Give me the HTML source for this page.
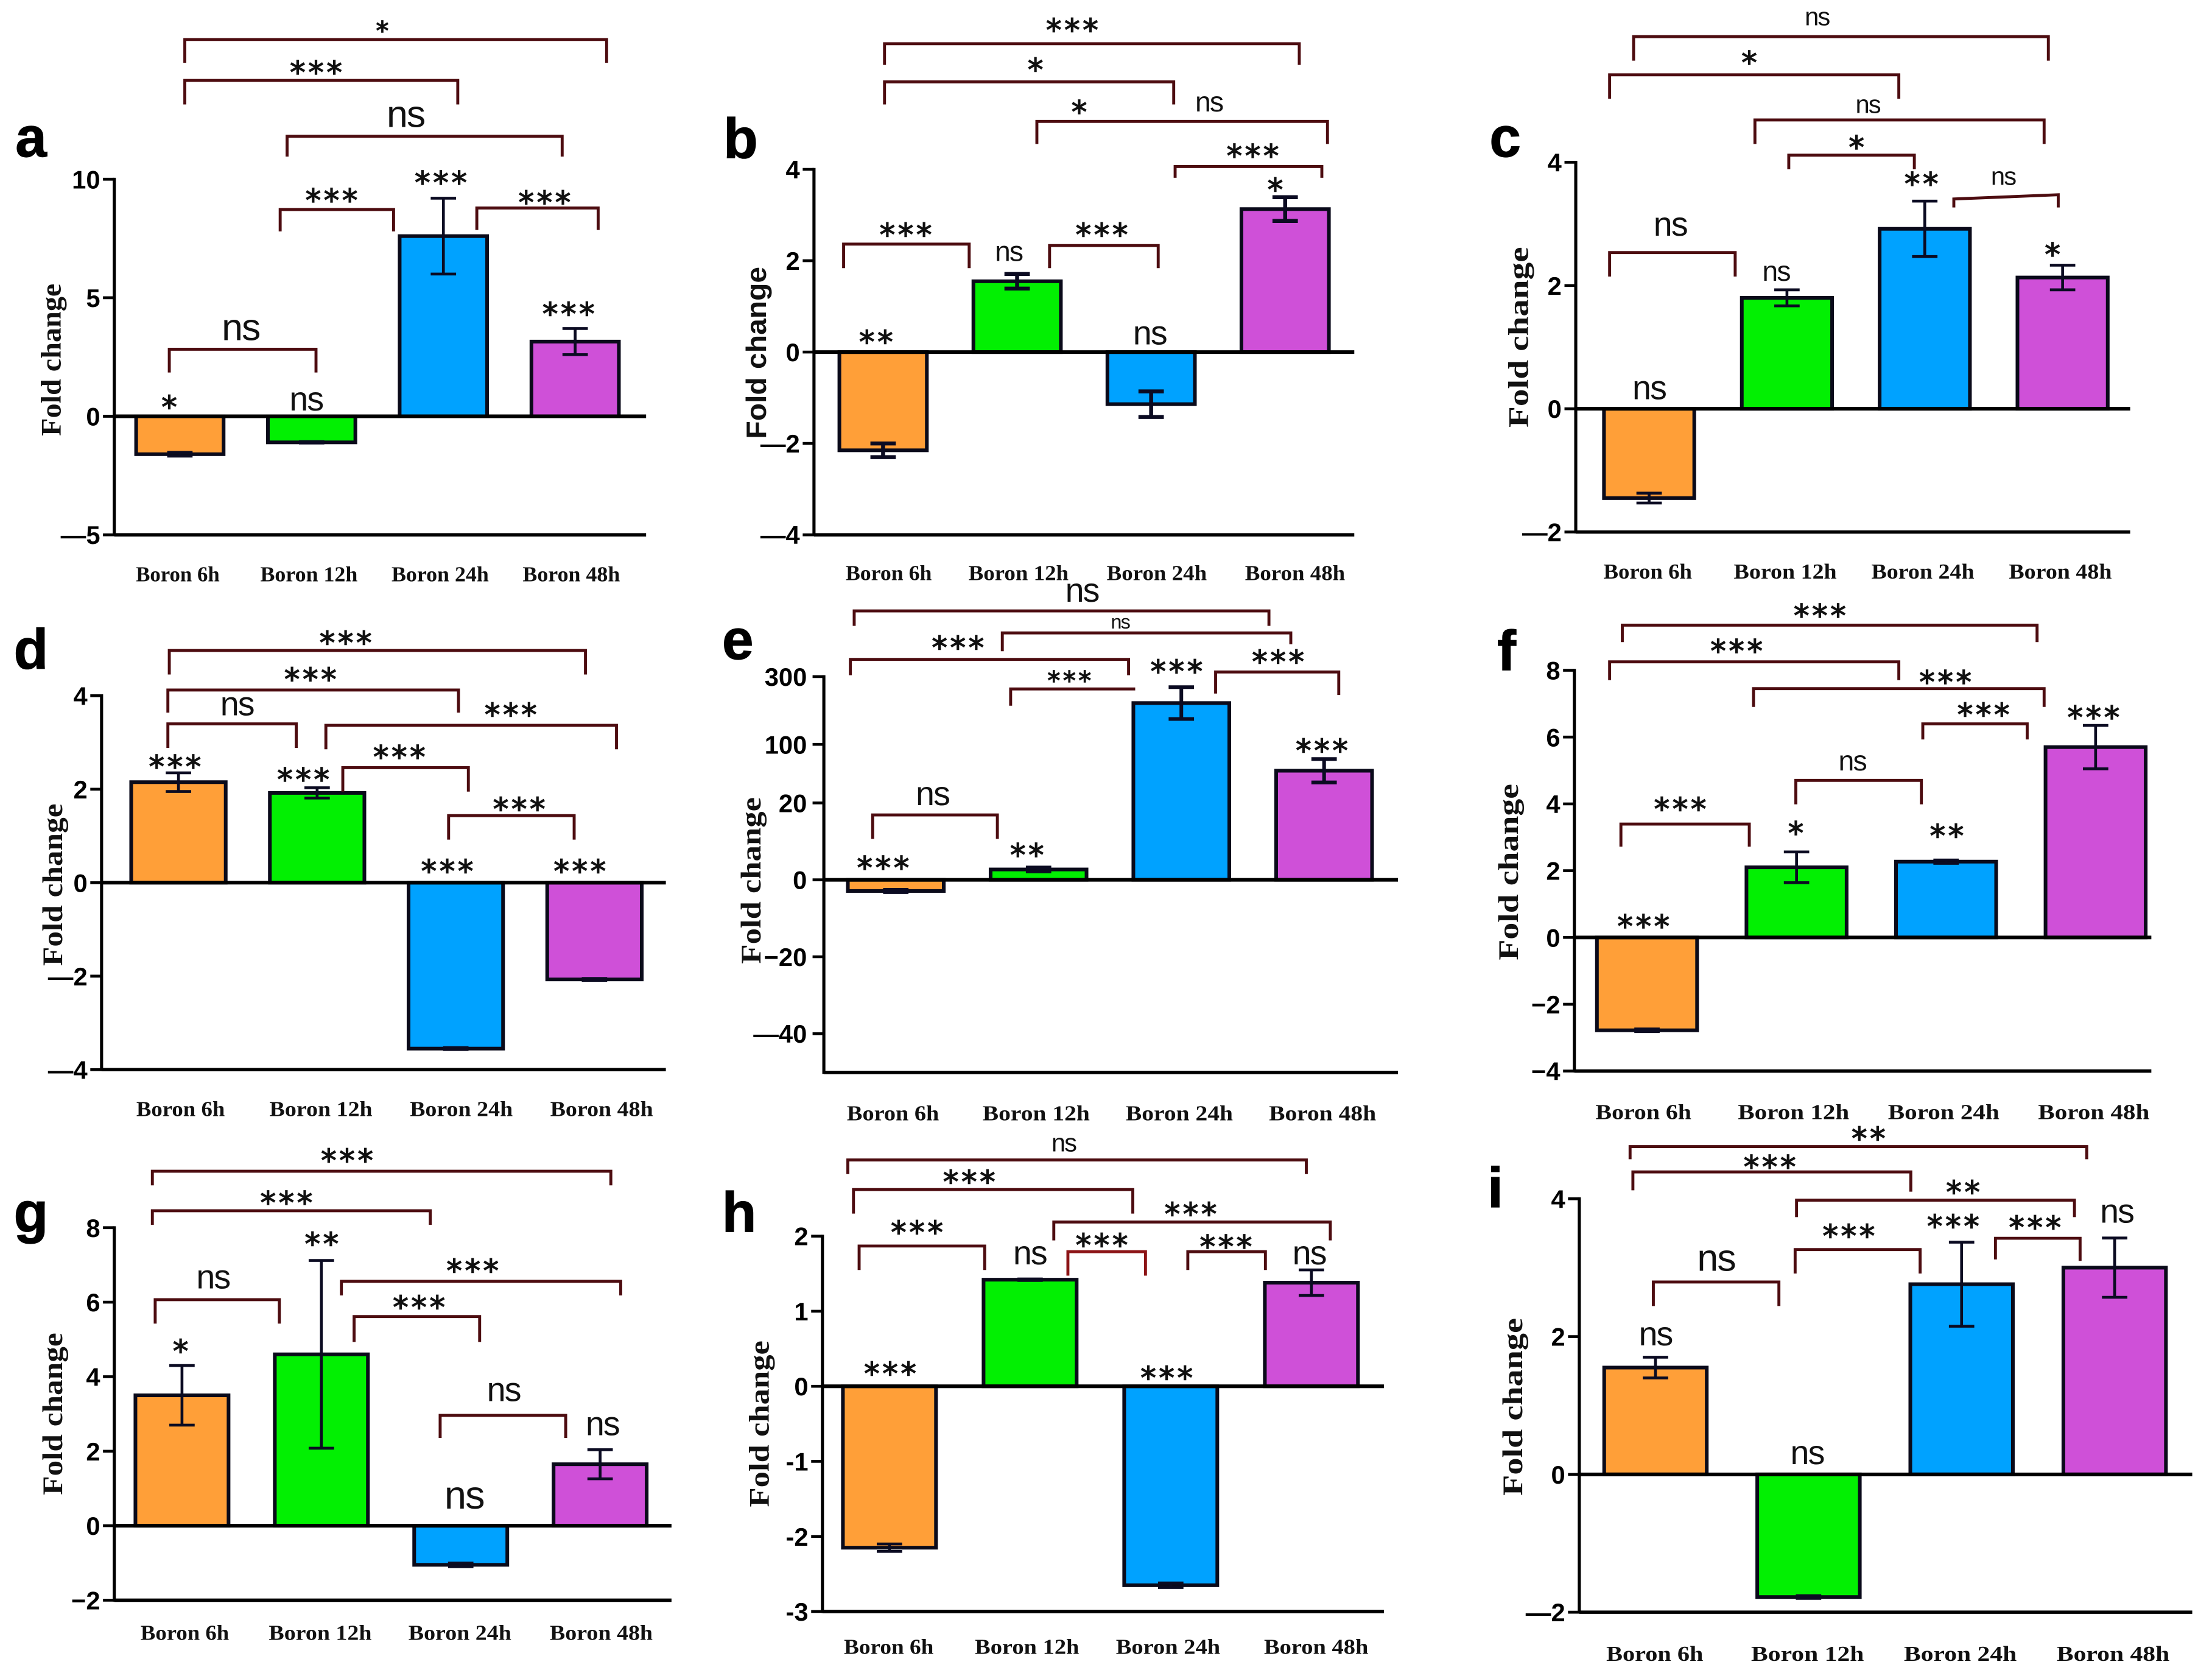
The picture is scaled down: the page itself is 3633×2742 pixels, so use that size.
<!DOCTYPE html>
<html lang="en">
<head>
<meta charset="utf-8">
<title>Fold change panels</title>
<style>
html,body{margin:0;padding:0;background:#fff}
svg{display:block}
.br{fill:none;stroke:#4d0c10;stroke-width:2.1;stroke-linecap:butt}
.st{font-family:"DejaVu Sans",sans-serif;font-size:22px;letter-spacing:2px;text-anchor:middle;fill:#111;stroke:#111;stroke-width:.6}
.ns{font-family:"Liberation Sans",sans-serif;font-size:24px;letter-spacing:-.8px;text-anchor:middle;fill:#111}
.let{font-family:"Liberation Sans",sans-serif;font-weight:bold;font-size:40px;text-anchor:middle;fill:#000;stroke:#000;stroke-width:.5}
.cat{font-family:"Liberation Serif",serif;font-weight:bold;font-size:15px;text-anchor:middle;fill:#111}
.tick{font-family:"Liberation Sans",sans-serif;font-weight:bold;font-size:18px;text-anchor:end;fill:#000}
.ttl{font-family:"Liberation Serif",serif;font-weight:bold;font-size:20px;text-anchor:middle;fill:#111}
</style>
</head>
<body>
<svg id="figure" xmlns="http://www.w3.org/2000/svg" width="3633" height="2742" viewBox="0 0 1568 1183.45">
<rect width="1568" height="1184" fill="#fff"/>
<g id="plots"></g>

<g>
<text class="let" x="22" y="111">a</text>
<path class="br" d="M131 44.5V28H430V44.5"/>
<text class="st" x="272" y="28" style="font-size:18px">*</text>
<path class="br" d="M131 74V57H324.5V74"/>
<text class="st" x="225" y="59">***</text>
<path class="br" d="M203.5 111V96.6H398.5V111"/>
<text class="ns" x="287.5" y="90" style="font-size:27px">ns</text>
<path class="br" d="M198.6 164V148.5H279V164"/>
<text class="st" x="236" y="149.5">***</text>
<path class="br" d="M338 163V147.4H424V163"/>
<text class="st" x="387" y="151">***</text>
<path class="br" d="M120 264V247.5H224V264"/>
<text class="ns" x="170.6" y="241" style="font-size:27px">ns</text>
<text class="st" x="121" y="296">*</text>
<text class="ns" x="217" y="291">ns</text>
<text class="st" x="313.5" y="137">***</text>
<text class="st" x="404" y="230">***</text>
</g>

<g>
<text class="let" x="525" y="112">b</text>
<path class="br" d="M627 46V31H921V46"/>
<text class="st" x="761" y="29">***</text>
<path class="br" d="M627 74V58H832V74"/>
<text class="st" x="735" y="57">*</text>
<path class="br" d="M735 102V86H941V102"/>
<text class="st" x="766" y="87">*</text>
<text class="ns" x="857" y="79" style="font-size:20px">ns</text>
<path class="br" d="M833 126V118H937V126"/>
<text class="st" x="889" y="118">***</text>
<path class="br" d="M598 190V173H687V190"/>
<text class="st" x="643" y="174">***</text>
<path class="br" d="M744 190V174H821V190"/>
<text class="st" x="782" y="174">***</text>
<text class="st" x="622" y="250">**</text>
<text class="ns" x="715" y="185" style="font-size:20px">ns</text>
<text class="ns" x="815" y="244">ns</text>
<text class="st" x="905" y="142">*</text>
</g>

<g>
<text class="let" x="1067" y="111">c</text>
<path class="br" d="M1158 43V26H1452V43"/>
<text class="ns" x="1288" y="18" style="font-size:18px">ns</text>
<path class="br" d="M1141 70V53H1346V70"/>
<text class="st" x="1241" y="52">*</text>
<path class="br" d="M1244 102V85H1449V102"/>
<text class="ns" x="1324" y="80" style="font-size:18px">ns</text>
<path class="br" d="M1268 120V110H1357V120"/>
<text class="st" x="1317" y="112">*</text>
<path class="br" d="M1385 147V141L1459 138V147"/>
<text class="ns" x="1420" y="131" style="font-size:18px">ns</text>
<path class="br" d="M1141 196V179H1230V196"/>
<text class="ns" x="1184" y="167">ns</text>
<text class="ns" x="1169" y="283">ns</text>
<text class="ns" x="1259" y="199" style="font-size:20px">ns</text>
<text class="st" x="1363" y="138">**</text>
<text class="st" x="1456" y="188">*</text>
</g>

<g>
<text class="let" x="22" y="474">d</text>
<path class="br" d="M120 478V461H415V478"/>
<text class="st" x="246" y="463">***</text>
<path class="br" d="M119 505V489H325V505"/>
<text class="st" x="221" y="489">***</text>
<path class="br" d="M119 530V513H210V530"/>
<text class="ns" x="168" y="507">ns</text>
<path class="br" d="M231 531V514H437V531"/>
<text class="st" x="363" y="514">***</text>
<path class="br" d="M243 561V544H332V561"/>
<text class="st" x="284" y="544">***</text>
<path class="br" d="M318 595V578H407V595"/>
<text class="st" x="369" y="581">***</text>
<text class="st" x="125" y="551">***</text>
<text class="st" x="216" y="560">***</text>
<text class="st" x="318" y="625">***</text>
<text class="st" x="412" y="625">***</text>
</g>

<g transform="translate(2 1.5)">
<text class="let" x="521" y="465.5">e</text>
<path class="br" d="M603.5 442V431.4H897.5V442"/>
<text class="ns" x="765" y="425">ns</text>
<path class="br" d="M708.5 460V447H913V455"/>
<text class="ns" x="792" y="444" style="font-size:14px">ns</text>
<path class="br" d="M600.8 477V465.8H798V477"/>
<text class="st" x="678" y="465">***</text>
<path class="br" d="M714.4 498.6V486.7H802.7"/>
<text class="st" x="757" y="487" style="font-size:18px">***</text>
<path class="br" d="M859.7 490V474.7H947V491"/>
<text class="st" x="905" y="475">***</text>
<path class="br" d="M616.6 593V576H705V593"/>
<text class="ns" x="659" y="569">ns</text>
<text class="st" x="625" y="621">***</text>
<text class="st" x="727" y="612">**</text>
<text class="st" x="833" y="482">***</text>
<text class="st" x="936" y="538">***</text>
</g>

<g>
<text class="let" x="1068" y="475">f</text>
<path class="br" d="M1150 455V443H1444V455"/>
<text class="st" x="1291" y="444">***</text>
<path class="br" d="M1141 482V469H1346V482"/>
<text class="st" x="1232" y="469">***</text>
<path class="br" d="M1243 501V488H1449V501"/>
<text class="st" x="1380" y="491">***</text>
<path class="br" d="M1363 524V513H1437V524"/>
<text class="st" x="1407" y="514">***</text>
<path class="br" d="M1273 570V553H1362V570"/>
<text class="ns" x="1313" y="546" style="font-size:20px">ns</text>
<path class="br" d="M1149 600V584H1240V600"/>
<text class="st" x="1192" y="581">***</text>
<text class="st" x="1166" y="664">***</text>
<text class="st" x="1274" y="598">*</text>
<text class="st" x="1381" y="600">**</text>
<text class="st" x="1485" y="516">***</text>
</g>

<g>
<text class="let" x="22" y="873">g</text>
<path class="br" d="M108 840V830H433V840"/>
<text class="st" x="247" y="830">***</text>
<path class="br" d="M108 868V858H305V868"/>
<text class="st" x="204" y="860">***</text>
<path class="br" d="M242 918V908H440V918"/>
<text class="st" x="336" y="908">***</text>
<path class="br" d="M251 951V933H340V951"/>
<text class="st" x="298" y="934">***</text>
<path class="br" d="M110 938V921H198V938"/>
<text class="ns" x="151" y="913">ns</text>
<path class="br" d="M312 1019V1003H401V1019"/>
<text class="ns" x="357" y="993">ns</text>
<text class="st" x="129" y="965">*</text>
<text class="st" x="229" y="889">**</text>
<text class="ns" x="329" y="1069" style="font-size:28px">ns</text>
<text class="ns" x="427" y="1017">ns</text>
</g>

<g>
<text class="let" x="524" y="873">h</text>
<path class="br" d="M601 832V822H926V832"/>
<text class="ns" x="754" y="816" style="font-size:18px">ns</text>
<path class="br" d="M605 860V843H803V860"/>
<text class="st" x="688" y="845">***</text>
<path class="br" d="M747 879V866H943V879"/>
<text class="st" x="845" y="868">***</text>
<path class="br" d="M609 900V883H698V900"/>
<text class="st" x="651" y="881">***</text>
<path class="br" d="M757 904V887H812V904" style="stroke:#8c1416"/>
<text class="st" x="782" y="890">***</text>
<path class="br" d="M842 900V887H897V900"/>
<text class="st" x="870" y="891">***</text>
<text class="st" x="632" y="981">***</text>
<text class="ns" x="730" y="896">ns</text>
<text class="st" x="828" y="984">***</text>
<text class="ns" x="928" y="896">ns</text>
</g>

<g transform="translate(3.5 0.5)">
<text class="let" x="1056.5" y="855">i</text>
<path class="br" d="M1152 821V812H1475.7V821"/>
<text class="st" x="1322" y="814">**</text>
<path class="br" d="M1154 843V830H1351V844"/>
<text class="st" x="1252" y="834">***</text>
<path class="br" d="M1270 862V850H1467V862"/>
<text class="st" x="1389" y="852">**</text>
<path class="br" d="M1269 902V885H1357.6V902"/>
<text class="st" x="1308" y="883">***</text>
<path class="br" d="M1411 892V877H1471V893"/>
<text class="st" x="1440" y="877">***</text>
<path class="br" d="M1168.5 925V908H1257.5V925"/>
<text class="ns" x="1213" y="900" style="font-size:27px">ns</text>
<text class="ns" x="1170" y="953">ns</text>
<text class="st" x="1382" y="876">***</text>
<text class="ns" x="1277.5" y="1037">ns</text>
<text class="ns" x="1497" y="866">ns</text>
</g>
</svg>

<script>
const categories = ['Boron 6h', 'Boron 12h', 'Boron 24h', 'Boron 48h'];
const barColors = ['#ff9f38', '#02f002', '#00a2ff', '#cf50d8'];

const aValues = [-1.6, -1.1, 7.6, 3.15];
const aErrors = [0.08, 0.03, 1.6, 0.55];
const aTicks = [10, 5, 0, -5];
const aTickLabels = ['10', '5', '0', '—5'];

const bValues = [-2.15, 1.55, -1.14, 3.13];
const bErrors = [0.15, 0.16, 0.28, 0.26];
const bTicks = [4, 2, 0, -2, -4];
const bTickLabels = ['4', '2', '0', '—2', '—4'];

const cValues = [-1.45, 1.8, 2.92, 2.13];
const cErrors = [0.08, 0.13, 0.45, 0.2];
const cTicks = [4, 2, 0, -2];
const cTickLabels = ['4', '2', '0', '—2'];

const dValues = [2.15, 1.92, -3.55, -2.07];
const dErrors = [0.2, 0.11, 0.02, 0.02];
const dTicks = [4, 2, 0, -2, -4];
const dTickLabels = ['4', '2', '0', '—2', '—4'];

const eValues = [-2.9, 2.7, 222, 64];
const eErrors = [0.3, 0.5, 47, 16];
const eTicks = [300, 100, 20, 0, -20, -40];
const eTickLabels = ['300', '100', '20', '0', '−20', '—40'];

const fValues = [-2.78, 2.1, 2.27, 5.7];
const fErrors = [0.04, 0.46, 0.05, 0.65];
const fTicks = [8, 6, 4, 2, 0, -2, -4];
const fTickLabels = ['8', '6', '4', '2', '0', '−2', '−4'];

const gValues = [3.5, 4.6, -1.05, 1.65];
const gErrors = [0.8, 2.52, 0.05, 0.39];
const gTicks = [8, 6, 4, 2, 0, -2];
const gTickLabels = ['8', '6', '4', '2', '0', '−2'];

const hValues = [-2.15, 1.42, -2.65, 1.38];
const hErrors = [0.05, 0.01, 0.03, 0.17];
const hTicks = [2, 1, 0, -1, -2, -3];
const hTickLabels = ['2', '1', '0', '-1', '-2', '-3'];

const iValues = [1.55, -1.78, 2.76, 3.0];
const iErrors = [0.15, 0.02, 0.61, 0.43];
const iTicks = [4, 2, 0, -2];
const iTickLabels = ['4', '2', '0', '—2'];

const NS = 'http://www.w3.org/2000/svg';
const root = document.getElementById('plots');

function linearScale(max, min, top, bottom) {
  return function (v) { return top + (max - v) / (max - min) * (bottom - top); };
}
function brokenScale(knotValues, knotPixels) {
  return function (v) {
    let k = 0;
    while (k < knotValues.length - 2 && v > knotValues[k + 1]) k++;
    const t = (v - knotValues[k]) / (knotValues[k + 1] - knotValues[k]);
    return knotPixels[k] + t * (knotPixels[k + 1] - knotPixels[k]);
  };
}
function svgEl(tag, parent) {
  const el = document.createElementNS(NS, tag);
  parent.appendChild(el);
  return el;
}
function setAll(el, props) {
  for (const k in props) el.setAttribute(k, props[k]);
}

function drawPanel(p) {
  const g = svgEl('g', root);
  
  
  const y = p.scale;
  const zero = y(0);
  const barX = function (i) { return p.barFirst + i * p.barStep; };
  const labelX = function (i) { return p.catFirst + i * p.catStep + (p.catNudge ? p.catNudge[i] : 0); };

  p.values.forEach(function (v, i) {
    const bar = svgEl('rect', g);
    
    
    setAll(bar, { x: barX(i) - p.barW / 2, y: Math.min(y(v), zero), width: p.barW, height: Math.abs(y(v) - zero),
      fill: barColors[i], stroke: '#0a0a1a', 'stroke-width': 2.6 });
  });

  p.values.forEach(function (v, i) {
    const err = svgEl('path', g);
    
    
    const cx = barX(i);
    const hi = y(v + p.errors[i]);
    const lo = y(v - p.errors[i]);
    setAll(err, { d: 'M' + (cx - 9) + ' ' + hi + 'H' + (cx + 9) + 'M' + cx + ' ' + hi + 'V' + lo + 'M' + (cx - 9) + ' ' + lo + 'H' + (cx + 9),
      fill: 'none', stroke: '#0b0b22', 'stroke-width': p.errW || 2 });
  });

  const yAxis = svgEl('line', g);
  
  
  setAll(yAxis, { x1: p.axisX, x2: p.axisX, y1: y(p.ticks[0]) - 1, y2: p.bottom + 1, stroke: '#000', 'stroke-width': 2.2 });

  const baseline = svgEl('line', g);
  
  
  setAll(baseline, { x1: p.axisX, x2: p.xEnd, y1: zero, y2: zero, stroke: '#000', 'stroke-width': 2.6 });

  const xAxis = svgEl('line', g);
  
  
  setAll(xAxis, { x1: p.axisX, x2: p.xEnd, y1: p.bottom, y2: p.bottom, stroke: '#000', 'stroke-width': 2.4 });

  p.ticks.forEach(function (t, i) {
    const mark = svgEl('line', g);
    
    
    setAll(mark, { x1: p.axisX - 8, x2: p.axisX, y1: y(t), y2: y(t), stroke: '#000', 'stroke-width': 2 });

    const lab = svgEl('text', g);
    
    
    lab.setAttribute('class', 'tick');
    setAll(lab, { x: p.axisX - (p.tickGap || 10), y: y(t) + 6.5 });
    lab.textContent = p.tickLabels[i];
  });

  categories.forEach(function (c, i) {
    const lab = svgEl('text', g);
    
    
    lab.setAttribute('class', 'cat');
    setAll(lab, { x: labelX(i), y: p.catY + 5, textLength: p.catLen * (c === 'Boron 6h' ? 0.86 : 1), lengthAdjust: 'spacingAndGlyphs' });
    lab.textContent = c;
  });

  const title = svgEl('text', g);
  
  
  title.setAttribute('class', 'ttl');
  setAll(title, { transform: 'translate(' + (p.titleX + 7) + ' ' + p.titleY + ') rotate(-90)', textLength: p.titleLen, lengthAdjust: 'spacingAndGlyphs' });
  if (p.titleSans) title.style.fontFamily = '"Liberation Sans",sans-serif';
  title.textContent = 'Fold change';
}

drawPanel({ id: 'a', values: aValues, errors: aErrors, ticks: aTicks, tickLabels: aTickLabels,
  scale: linearScale(10, -5, 127, 379), bottom: 379, axisX: 81, xEnd: 458,
  barFirst: 127.5, barStep: 93.4, barW: 62, catFirst: 126, catStep: 93, catY: 407, catLen: 69, titleX: 36, titleY: 255, titleLen: 108 });
drawPanel({ id: 'b', values: bValues, errors: bErrors, ticks: bTicks, tickLabels: bTickLabels,
  scale: linearScale(4, -4, 120, 379), bottom: 379, axisX: 577, xEnd: 960,
  barFirst: 626, barStep: 95, barW: 62, catFirst: 630, catStep: 96, catNudge: [0, -4, -2, 0], catY: 406, catLen: 71, titleX: 536, titleY: 250, titleLen: 122, titleSans: true, errW: 2.8 });
drawPanel({ id: 'c', values: cValues, errors: cErrors, ticks: cTicks, tickLabels: cTickLabels,
  scale: linearScale(4, -2, 115, 377), bottom: 377, axisX: 1117, xEnd: 1510,
  barFirst: 1169, barStep: 97.7, barW: 64, catFirst: 1168, catStep: 97.5, catY: 405, catLen: 73, titleX: 1076, titleY: 239, titleLen: 128 });
drawPanel({ id: 'd', values: dValues, errors: dErrors, ticks: dTicks, tickLabels: dTickLabels,
  scale: linearScale(4, -4, 493, 758), bottom: 758, axisX: 72, xEnd: 472,
  barFirst: 126.5, barStep: 98.3, barW: 67, catFirst: 128, catStep: 99.5, catY: 786, catLen: 73, titleX: 37, titleY: 627, titleLen: 115 });
drawPanel({ id: 'e', values: eValues, errors: eErrors, ticks: eTicks, tickLabels: eTickLabels,
  scale: brokenScale([-50, -40, -20, 0, 20, 100, 300], [760, 732.5, 678, 623.5, 569, 527.5, 479.5]), bottom: 760, axisX: 584, xEnd: 991, tickGap: 12,
  barFirst: 635, barStep: 101.2, barW: 68, catFirst: 633, catStep: 101.5, catY: 789, catLen: 76, titleX: 532, titleY: 624, titleLen: 118, errW: 2.6 });
drawPanel({ id: 'f', values: fValues, errors: fErrors, ticks: fTicks, tickLabels: fTickLabels,
  scale: linearScale(8, -4, 475, 759), bottom: 759, axisX: 1116, xEnd: 1525,
  barFirst: 1167.5, barStep: 106, barW: 71, catFirst: 1165, catStep: 106.4, catY: 788, catLen: 79, titleX: 1069, titleY: 618, titleLen: 125 });
drawPanel({ id: 'g', values: gValues, errors: gErrors, ticks: gTicks, tickLabels: gTickLabels,
  scale: linearScale(8, -2, 870, 1134), bottom: 1134, axisX: 81, xEnd: 476,
  barFirst: 129, barStep: 98.8, barW: 66, catFirst: 131, catStep: 98.4, catNudge: [0, -2.4, -1.8, 0], catY: 1157, catLen: 73, titleX: 37, titleY: 1002, titleLen: 115 });
drawPanel({ id: 'h', values: hValues, errors: hErrors, ticks: hTicks, tickLabels: hTickLabels,
  scale: linearScale(2, -3, 876, 1142), bottom: 1142, axisX: 583, xEnd: 981,
  barFirst: 630.5, barStep: 99.7, barW: 66, catFirst: 630, catStep: 101, catNudge: [0, -3, -4, 0], catY: 1167, catLen: 74, titleX: 538, titleY: 1009, titleLen: 118 });
drawPanel({ id: 'i', values: iValues, errors: iErrors, ticks: iTicks, tickLabels: iTickLabels,
  scale: linearScale(4, -2, 849.5, 1142.5), bottom: 1142.5, axisX: 1119.5, xEnd: 1554,
  barFirst: 1173.5, barStep: 108.5, barW: 72.7, catFirst: 1173, catStep: 108.3, catY: 1172, catLen: 80, titleX: 1072, titleY: 997, titleLen: 126 });
</script>
</body>
</html>
